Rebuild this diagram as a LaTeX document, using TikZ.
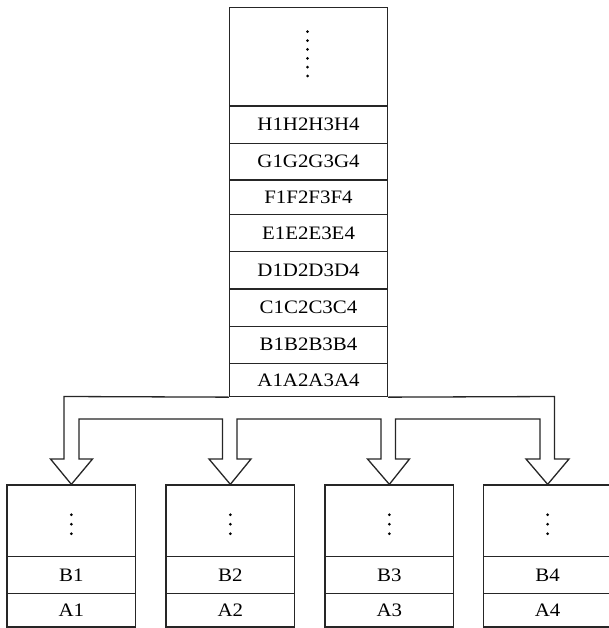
\documentclass[tikz,border=0pt]{standalone}
\usepackage{fontspec}
\setmainfont{Liberation Serif}[FakeStretch=1.1]
\begin{document}
\begin{tikzpicture}[x=1pt,y=-1pt,line width=1.3pt,
  cell/.style={draw=black!85,rectangle,inner sep=0pt,minimum width=158pt,font=\fontsize{19}{22}\selectfont},
  bcell/.style={draw=black!85,rectangle,inner sep=0pt,minimum width=128.7pt,font=\fontsize{19}{22}\selectfont},
  dotc/.style={fill=black,draw=none},
  flow/.style={draw=black!85,line join=miter,fill=white}]
\useasboundingbox (0,0) rectangle (609,628);
% top stack
\node[cell,minimum height=98.5pt] (T) at (308.5,56.75) {};
\node[cell,minimum height=37.3pt] (H) at (308.5,124.65) {H1H2H3H4};
\node[cell,minimum height=36.7pt] (G) at (308.5,161.65) {G1G2G3G4};
\node[cell,minimum height=34.7pt] (F) at (308.5,197.35) {F1F2F3F4};
\node[cell,minimum height=37pt] (E) at (308.5,233.2) {E1E2E3E4};
\node[cell,minimum height=37.3pt] (D) at (308.5,270.35) {D1D2D3D4};
\node[cell,minimum height=37.3pt] (C) at (308.5,307.65) {C1C2C3C4};
\node[cell,minimum height=37pt] (B) at (308.5,344.8) {B1B2B3B4};
\node[cell,minimum height=33.2pt] (A) at (308.5,379.9) {A1A2A3A4};
\foreach \k in {0,...,5}{\fill (307.5,31.7+8.86*\k) circle (1.5pt);}
% bottom boxes
\foreach \i/\xl in {1/7,2/166,3/325,4/483.3}{
  \node[bcell,minimum height=71.7pt] (d\i) at (\xl+64.35,520.85) {};
  \node[bcell,minimum height=36.6pt] (b\i) at (\xl+64.35,575) {B\i};
  \node[bcell,minimum height=33.7pt] (a\i) at (\xl+64.35,610.15) {A\i};
  \foreach \k in {-1,0,1}{\fill ([yshift=-3.35pt+9.5pt*\k]d\i.center) circle (1.5pt);}
}
% distribution arrows
\draw[flow] (A.south west) -- (64,396.5) -- (64,459) -- (50.5,459) -- (d1.north)
  -- (92.5,459) -- (79,459) -- (79,419) -- (222.5,419) -- (222.5,459) -- (209,459)
  -- (d2.north) -- (251,459) -- (237,459) -- (237,419) -- (381,419) -- (381,459)
  -- (367.5,459) -- (d3.north) -- (409.5,459) -- (395.5,459) -- (395.5,419)
  -- (540,419) -- (540,459) -- (526,459) -- (d4.north) -- (569,459) -- (554.5,459)
  -- (554.5,396.5) -- (A.south east);
\end{tikzpicture}
\end{document}
